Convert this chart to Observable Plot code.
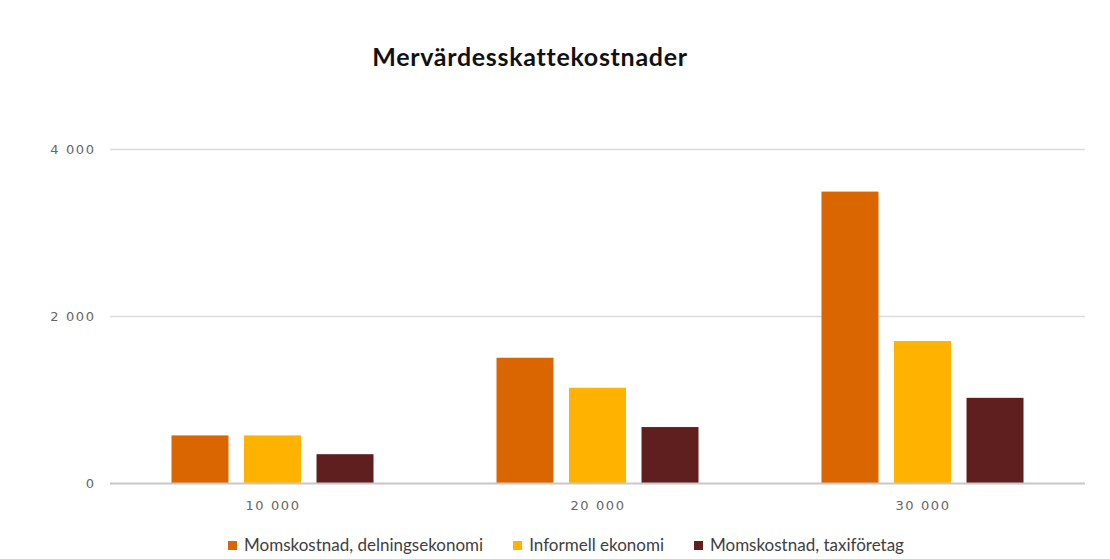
<!DOCTYPE html>
<html>
<head>
<meta charset="utf-8">
<script src="https://cdn.jsdelivr.net/npm/d3@7"></script>
<script src="https://cdn.jsdelivr.net/npm/@observablehq/plot@0.6"></script>
<style>
  body { margin: 0; background: #fff; }
  #wrap { position: relative; width: 1110px; height: 559px; overflow: hidden; }
  #title { position: absolute; top: 40px; left: 0; width: 1060px; text-align: center; line-height: 32px;
           font-family: Lato, sans-serif; font-weight: 700; font-size: 25px; letter-spacing: 0.7px; color: #111; }
  #chart { position: absolute; top: 0; left: 0; }
  #chart svg text { font-size: 13px !important; letter-spacing: 1.6px; font-family: "DejaVu Sans", sans-serif; }
  #legend { position: absolute; top: 534px; left: 0; width: 1132px; display: flex; justify-content: center;
            font-family: Lato, sans-serif; font-size: 17px; color: #404040; line-height: 22px; }
  .item { display: flex; align-items: center; margin: 0 15px; }
  .sw { width: 9px; height: 9px; margin-right: 7px; }
</style>
</head>
<body>
<div id="wrap">
  <div id="title">Mervärdesskattekostnader</div>
  <div id="chart"></div>
  <div id="legend"></div>
</div>
<script>
const groups = [10000, 20000, 30000];
const series = ["Momskostnad, delningsekonomi", "Informell ekonomi", "Momskostnad, taxiföretag"];
const delning = [570, 1500, 3490];
const informell = [570, 1140, 1700];
const taxi = [345, 670, 1020];
const colors = ["#D96600", "#FFB300", "#5F1F1E"];
const yTicks = [0, 2000, 4000];

const values = [delning, informell, taxi];
const data = [];
groups.forEach((g, i) => series.forEach((s, j) => data.push({group: g, series: s, value: values[j][i]})));

const sv = d3.formatLocale({decimal: ",", thousands: "\u00a0", grouping: [3], currency: ["", " kr"]});
const fmt = sv.format(",d");

const chart = Plot.plot({
  width: 1110,
  height: 530,
  marginTop: 149,
  marginBottom: 47,
  marginLeft: 110,
  marginRight: 25,
  style: {fontFamily: "DejaVu Sans, sans-serif", fontSize: "13px", color: "#666666", background: "transparent"},
  fx: {domain: groups, padding: 0, tickSize: 0, tickPadding: 17, tickFormat: fmt, label: null, axis: "bottom"},
  x: {domain: series, paddingInner: 0.214, paddingOuter: 0.848, axis: null, round: false},
  y: {domain: [0, 4000], ticks: yTicks, tickSize: 0, tickPadding: 15, tickFormat: fmt, label: null},
  color: {domain: series, range: colors},
  marks: [
    Plot.ruleY(yTicks.filter(t => t > 0), {stroke: "#dcdcdc", strokeWidth: 1.5}),
    Plot.barY(data, {fx: "group", x: "series", y: "value", fill: "series"}),
    Plot.ruleY([0], {stroke: "#c8c8c8", strokeWidth: 2})
  ]
});
document.getElementById("chart").appendChild(chart);

const legend = document.getElementById("legend");
series.forEach((s, j) => {
  const it = document.createElement("div");
  it.className = "item";
  const sw = document.createElement("span");
  sw.className = "sw";
  sw.style.background = colors[j];
  const t = document.createElement("span");
  t.textContent = s;
  it.appendChild(sw); it.appendChild(t);
  legend.appendChild(it);
});
</script>
</body>
</html>
